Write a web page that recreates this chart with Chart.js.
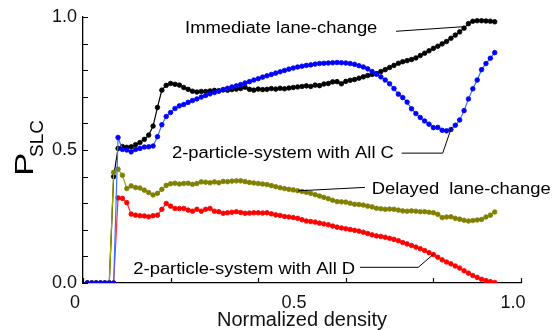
<!DOCTYPE html>
<html><head><meta charset="utf-8">
<script src="https://cdn.jsdelivr.net/npm/chart.js@4"></script>
<style>html,body{margin:0;padding:0;background:#fff}canvas{display:block}</style>
</head><body>
<canvas id="c" width="558" height="330"></canvas>
<script>
const density = [0.01,0.02,0.03,0.04,0.05,0.06,0.07,0.08,0.09,0.10,0.11,0.12,0.13,0.14,0.15,0.16,0.17,0.18,0.19,0.20,0.21,0.22,0.23,0.24,0.25,0.26,0.27,0.28,0.29,0.30,0.31,0.32,0.33,0.34,0.35,0.36,0.37,0.38,0.39,0.40,0.41,0.42,0.43,0.44,0.45,0.46,0.47,0.48,0.49,0.50,0.51,0.52,0.53,0.54,0.55,0.56,0.57,0.58,0.59,0.60,0.61,0.62,0.63,0.64,0.65,0.66,0.67,0.68,0.69,0.70,0.71,0.72,0.73,0.74,0.75,0.76,0.77,0.78,0.79,0.80,0.81,0.82,0.83,0.84,0.85,0.86,0.87,0.88,0.89,0.90,0.91,0.92,0.93,0.94];
const immediate = [0,0,0,0,0,0,0.40,0.506,0.513,0.51,0.512,0.52,0.528,0.54,0.556,0.59,0.66,0.725,0.743,0.75,0.747,0.744,0.735,0.728,0.721,0.718,0.72,0.72,0.722,0.724,0.723,0.726,0.725,0.727,0.729,0.731,0.736,0.728,0.725,0.729,0.727,0.728,0.731,0.729,0.732,0.73,0.733,0.735,0.737,0.739,0.741,0.739,0.744,0.742,0.748,0.75,0.756,0.757,0.749,0.758,0.762,0.765,0.77,0.775,0.78,0.784,0.787,0.795,0.802,0.81,0.818,0.826,0.832,0.836,0.84,0.846,0.855,0.864,0.873,0.882,0.89,0.899,0.908,0.92,0.932,0.944,0.958,0.975,0.984,0.986,0.986,0.985,0.984,0.982];
const allC = [0,0,0,0,0,0,0,0.547,0.502,0.5,0.493,0.502,0.506,0.511,0.512,0.515,0.55,0.595,0.626,0.641,0.656,0.666,0.671,0.679,0.686,0.692,0.699,0.705,0.711,0.716,0.721,0.727,0.732,0.737,0.741,0.746,0.752,0.757,0.763,0.768,0.774,0.779,0.784,0.789,0.794,0.799,0.804,0.808,0.812,0.815,0.818,0.82,0.823,0.825,0.826,0.827,0.828,0.829,0.828,0.827,0.825,0.822,0.817,0.812,0.805,0.795,0.785,0.775,0.763,0.749,0.731,0.71,0.697,0.68,0.655,0.637,0.622,0.609,0.597,0.584,0.585,0.574,0.572,0.577,0.593,0.613,0.648,0.692,0.73,0.763,0.802,0.825,0.845,0.866];
const delayed = [0,0,0,0,0,0,0.416,0.428,0.405,0.355,0.365,0.359,0.357,0.349,0.34,0.331,0.337,0.352,0.367,0.373,0.375,0.372,0.374,0.375,0.371,0.374,0.38,0.379,0.377,0.38,0.377,0.382,0.381,0.383,0.384,0.384,0.381,0.378,0.376,0.374,0.372,0.37,0.366,0.362,0.358,0.355,0.352,0.35,0.347,0.344,0.341,0.337,0.332,0.327,0.322,0.317,0.311,0.306,0.305,0.304,0.3,0.296,0.295,0.293,0.289,0.286,0.281,0.279,0.277,0.278,0.277,0.274,0.271,0.27,0.271,0.27,0.268,0.268,0.266,0.264,0.258,0.246,0.248,0.249,0.243,0.24,0.236,0.233,0.235,0.237,0.239,0.248,0.255,0.267];
const allD = [0,0,0,0,0,0,0,0.32,0.318,0.302,0.259,0.255,0.253,0.252,0.249,0.253,0.255,0.277,0.299,0.289,0.28,0.28,0.28,0.274,0.27,0.277,0.27,0.277,0.28,0.27,0.268,0.262,0.264,0.266,0.268,0.265,0.262,0.263,0.264,0.264,0.263,0.264,0.26,0.256,0.254,0.25,0.248,0.246,0.243,0.238,0.233,0.231,0.229,0.225,0.222,0.219,0.214,0.21,0.207,0.204,0.201,0.198,0.195,0.191,0.186,0.181,0.177,0.175,0.172,0.168,0.164,0.159,0.152,0.147,0.141,0.135,0.129,0.122,0.114,0.107,0.097,0.087,0.079,0.072,0.064,0.056,0.046,0.037,0.028,0.021,0.014,0.009,0.005,0.002];
const xTickLabels = [0, 0.5, 1.0];
const yTickLabels = [0, 0.5, 1.0];
const xMinorTicks = [0, 0.2, 0.4, 0.6, 0.8, 1.0];
const yMinorTicks = [0, 0.1, 0.2, 0.3, 0.4, 0.5, 0.6, 0.7, 0.8, 0.9, 1.0];
const seriesNames = ['2-particle-system with All C', 'Immediate lane-change', 'Delayed  lane-change', '2-particle-system with All D'];

const FAMILY = '"Liberation Sans", Arial, Helvetica, sans-serif';
const pts = arr => arr.map((v, i) => ({x: density[i], y: v}));

// annotation texts with leader lines (data coordinates)
const notes = [
  {text: seriesNames[1], x: 0.233, y: 0.958, line: [[0.7146, 0.9463], [0.8653, 0.9632]]},
  {text: seriesNames[0], x: 0.2032, y: 0.4882, line: [[0.7276, 0.4882], [0.8212, 0.4882], [0.8418, 0.5869]]},
  {text: seriesNames[2], x: 0.659, y: 0.353, line: [[0.6438, 0.3594], [0.4909, 0.3466]]},
  {text: seriesNames[3], x: 0.1148, y: 0.0514, line: [[0.6324, 0.059], [0.7655, 0.059], [0.7998, 0.1078]]}
];

const decor = {
  id: 'decor',
  afterDraw(chart) {
    const {ctx, scales: {x, y}} = chart;
    ctx.save();
    ctx.strokeStyle = '#000';
    ctx.lineWidth = 1.2;
    // inward minor ticks
    ctx.beginPath();
    yMinorTicks.forEach(v => { const py = Math.round(y.getPixelForValue(v)) + 0.5; ctx.moveTo(x.left, py); ctx.lineTo(x.left + 5, py); });
    xMinorTicks.forEach(v => { const px = Math.round(x.getPixelForValue(v)) + 0.5; ctx.moveTo(px, y.bottom); ctx.lineTo(px, y.bottom - 5); });
    ctx.stroke();
    // leader lines
    ctx.lineWidth = 1;
    notes.forEach(n => {
      ctx.beginPath();
      n.line.forEach((p, i) => { const px = x.getPixelForValue(p[0]), py = y.getPixelForValue(p[1]); i ? ctx.lineTo(px, py) : ctx.moveTo(px, py); });
      ctx.stroke();
    });
    // annotation texts
    ctx.fillStyle = '#000';
    ctx.font = '16px ' + FAMILY;
    ctx.textBaseline = 'middle';
    ctx.textAlign = 'left';
    notes.forEach(n => {
      ctx.save();
      ctx.translate(x.getPixelForValue(n.x), y.getPixelForValue(n.y));
      ctx.scale(1.15, 1);
      ctx.fillText(n.text, 0, 0);
      ctx.restore();
    });
    // y-axis title P_SLC
    ctx.save();
    ctx.translate(33, 176);
    ctx.rotate(-Math.PI / 2);
    ctx.textBaseline = 'alphabetic';
    ctx.save();
    ctx.scale(1.35, 1);
    ctx.font = '26px ' + FAMILY;
    ctx.fillText('P', 0, 0);
    ctx.restore();
    ctx.font = '19px ' + FAMILY;
    ctx.fillText('SLC', 19, 10);
    ctx.restore();
    ctx.restore();
  }
};

new Chart(document.getElementById('c'), {
  type: 'line',
  data: {
    datasets: [
      {label: seriesNames[0], data: pts(allC), borderColor: '#3a70ff', pointBackgroundColor: '#0000ff', pointBorderColor: '#0000ff'},
      {label: seriesNames[2], data: pts(delayed), borderColor: '#9aa800', pointBackgroundColor: '#808000', pointBorderColor: '#808000'},
      {label: seriesNames[1], data: pts(immediate), borderColor: '#000000', pointBackgroundColor: '#000000', pointBorderColor: '#000000'},
      {label: seriesNames[3], data: pts(allD), borderColor: '#ff3030', pointBackgroundColor: '#ff0000', pointBorderColor: '#ff0000'}
    ]
  },
  options: {
    responsive: false,
    animation: false,
    events: [],
    layout: {padding: {top: 17, right: 37, left: 0, bottom: 0}},
    elements: {
      line: {borderWidth: 1.2, tension: 0},
      point: {radius: 2.3, borderWidth: 0.8}
    },
    plugins: {legend: {display: false}, tooltip: {enabled: false}},
    scales: {
      x: {
        type: 'linear', min: 0, max: 1,
        afterBuildTicks: s => { s.ticks = xTickLabels.map(v => ({value: v})); },
        afterFit: s => { s.height = 47; },
        grid: {display: false, drawTicks: false},
        border: {display: true, color: '#000', width: 1.3},
        ticks: {font: {family: FAMILY, size: 18}, color: '#111', padding: 9, labelOffset: -8, maxRotation: 0, autoSkip: false,
          callback: v => v === 0 ? '0' : v.toFixed(1)},
        title: {display: true, text: 'Normalized density', font: {family: FAMILY, size: 20}, color: '#111', padding: {top: 0, bottom: -2}}
      },
      y: {
        type: 'linear', min: 0, max: 1,
        afterBuildTicks: s => { s.ticks = yTickLabels.map(v => ({value: v})); },
        afterFit: s => { s.width = 83; },
        grid: {display: false, drawTicks: false},
        border: {display: true, color: '#000', width: 1.3},
        ticks: {font: {family: FAMILY, size: 18}, color: '#111', padding: 6, autoSkip: false,
          callback: v => v.toFixed(1)}
      }
    }
  },
  plugins: [decor]
});
</script>
</body></html>
